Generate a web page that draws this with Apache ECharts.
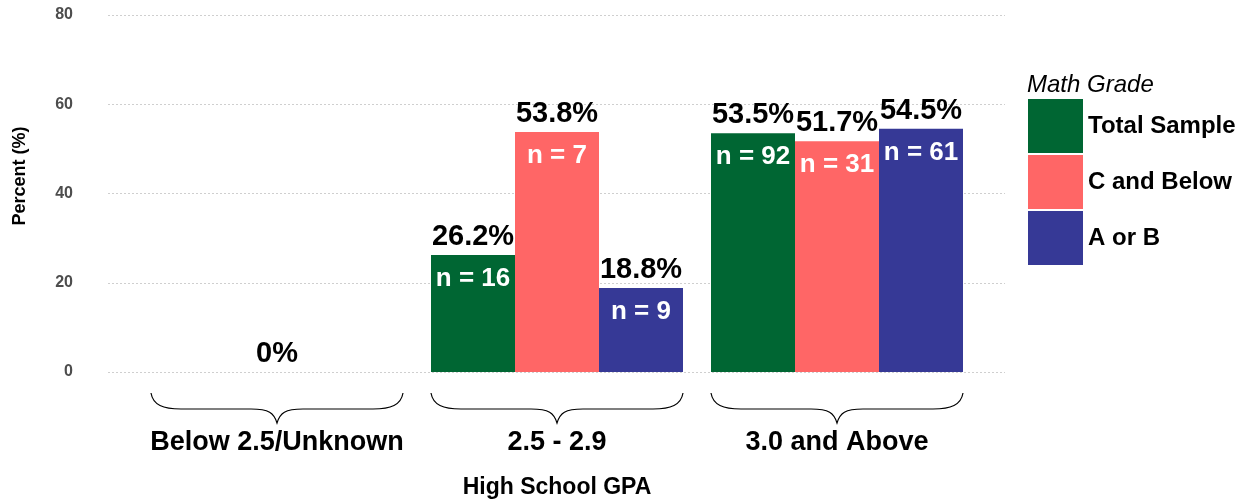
<!DOCTYPE html>
<html lang="en">
<head>
<meta charset="UTF-8">
<title>Math Grade by High School GPA</title>
<script src="https://cdn.jsdelivr.net/npm/echarts@6/dist/echarts.min.js"></script>
<style>
  html, body { margin: 0; padding: 0; background: #fff; }
  #main { width: 1247px; height: 502px; }
</style>
</head>
<body>
<div id="main"></div>
<script>
// data
var categories = ['Below 2.5/Unknown', '2.5 - 2.9', '3.0 and Above'];
var seriesNames = ['Total Sample', 'C and Below', 'A or B'];
var totalPct = [null, 26.2, 53.5];
var cBelowPct = [null, 53.8, 51.7];
var aOrBPct = [null, 18.8, 54.5];
var totalN = [null, 16, 92];
var cBelowN = [null, 7, 31];
var aOrBN = [null, 9, 61];
var zeroPct = [0, null, null];   // group with no respondents, one "0%" label
var yTicks = [0, 20, 40, 60, 80];

var colors = ['#006633', '#FF6666', '#363996'];
var FONT = '"Liberation Sans", Arial, sans-serif';

var chart = echarts.init(document.getElementById('main'));

function barSeries(i, pct, ns) {
  return {
    name: seriesNames[i],
    type: 'bar',
    xAxisIndex: 1,
    yAxisIndex: 1,
    data: pct,
    barGap: '0%',
    barCategoryGap: '10%',
    itemStyle: { color: colors[i] },
    label: {
      show: true,
      position: 'insideTop',
      distance: 5,
      offset: [0, -44],
      formatter: function (p) {
        if (p.value == null) return '';
        return '{p|' + p.value.toFixed(1) + '%}\n{n|n = ' + ns[p.dataIndex] + '}';
      },
      rich: {
        p: { fontFamily: FONT, fontSize: 29, fontWeight: 'bold', color: '#000', lineHeight: 42 },
        n: { fontFamily: FONT, fontSize: 26, fontWeight: 'bold', color: '#fff', lineHeight: 42 }
      }
    },
    emphasis: { disabled: true }
  };
}

// curly brace under every group, sized from the category band
function braceItem(params, api) {
  var c = api.coord([api.value(0), 0]);
  var w = api.size([1, 0])[0] * 0.9;
  var L = c[0] - w / 2, R = c[0] + w / 2, cx = c[0];
  var y0 = c[1] + 21, y1 = c[1] + 37, y2 = c[1] + 51;
  var d = 'M' + L + ',' + y0 +
    ' C' + (L + 2) + ',' + (y1 - 4) + ' ' + (L + 12) + ',' + y1 + ' ' + (L + 30) + ',' + y1 +
    ' L' + (cx - 26) + ',' + y1 +
    ' C' + (cx - 8) + ',' + y1 + ' ' + (cx - 3) + ',' + (y1 + 4) + ' ' + cx + ',' + y2 +
    ' C' + (cx + 3) + ',' + (y1 + 4) + ' ' + (cx + 8) + ',' + y1 + ' ' + (cx + 26) + ',' + y1 +
    ' L' + (R - 30) + ',' + y1 +
    ' C' + (R - 12) + ',' + y1 + ' ' + (R - 2) + ',' + (y1 - 4) + ' ' + R + ',' + y0;
  return {
    type: 'path',
    shape: { pathData: d },
    style: { stroke: '#000', fill: null, lineWidth: 1.2 }
  };
}

var option = {
  backgroundColor: '#fff',
  animation: false,
  textStyle: { fontFamily: FONT },
  title: {
    text: 'Math Grade',
    left: 1027,
    top: 73,
    padding: 0,
    textStyle: { fontFamily: FONT, fontSize: 24, fontStyle: 'italic', fontWeight: 'normal', color: '#000' }
  },
  legend: {
    data: seriesNames,
    orient: 'vertical',
    left: 1028,
    top: 99,
    padding: 0,
    itemWidth: 55,
    itemHeight: 54,
    itemGap: 2,
    icon: 'rect',
    selectedMode: false,
    textStyle: { fontFamily: FONT, fontSize: 24, fontWeight: 'bold', color: '#000', padding: [4, 0, 0, 0] }
  },
  grid: [
    // gridlines, wider like ggplot's expand
    { left: 108, right: 242, top: 15, bottom: 130, outerBoundsMode: 'none', containLabel: false },
    // bars
    { left: 137, right: 270, top: 15, bottom: 130, outerBoundsMode: 'none', containLabel: false }
  ],
  xAxis: [
    { type: 'value', gridIndex: 0, min: 0, max: 1, show: false },
    {
      type: 'category',
      gridIndex: 1,
      data: categories,
      axisLine: { show: false },
      axisTick: { show: false },
      axisLabel: { interval: 0, margin: 57, fontFamily: FONT, fontSize: 27, fontWeight: 'bold', color: '#000' },
      name: 'High School GPA',
      nameLocation: 'middle',
      nameGap: 104,
      nameTextStyle: { fontFamily: FONT, fontSize: 23, fontWeight: 'bold', color: '#000' }
    }
  ],
  yAxis: [
    {
      type: 'value',
      gridIndex: 0,
      min: yTicks[0],
      max: yTicks[yTicks.length - 1],
      interval: 20,
      axisLine: { show: false },
      axisTick: { show: false },
      axisLabel: { margin: 35, fontFamily: FONT, fontSize: 16, fontWeight: 'bold', color: '#4D4D4D' },
      splitLine: { lineStyle: { color: '#CFCFCF', type: [2, 2], width: 1 } }
    },
    { type: 'value', gridIndex: 1, min: 0, max: 80, show: false }
  ],
  graphic: [{
    type: 'text',
    x: 20,
    y: 176,
    rotation: Math.PI / 2,
    style: {
      text: 'Percent (%)',
      align: 'center',
      verticalAlign: 'middle',
      font: 'bold 18px ' + FONT,
      fill: '#000'
    }
  }],
  series: [
    barSeries(0, totalPct, totalN),
    barSeries(1, cBelowPct, cBelowN),
    barSeries(2, aOrBPct, aOrBN),
    {
      name: 'zero',
      type: 'scatter',
      xAxisIndex: 1,
      yAxisIndex: 1,
      data: zeroPct,
      symbolSize: 0,
      silent: true,
      itemStyle: { opacity: 1 },
      label: {
        show: true,
        position: 'top',
        distance: 4,
        formatter: function (p) { return p.value == null ? '' : p.value + '%'; },
        fontFamily: FONT,
        fontSize: 29,
        fontWeight: 'bold',
        color: '#000'
      }
    },
    {
      name: 'braces',
      type: 'custom',
      xAxisIndex: 1,
      yAxisIndex: 1,
      clip: false,
      silent: true,
      data: categories.map(function (c, i) { return [i]; }),
      encode: { x: 0 },
      renderItem: braceItem
    }
  ]
};

chart.setOption(option);
</script>
</body>
</html>
